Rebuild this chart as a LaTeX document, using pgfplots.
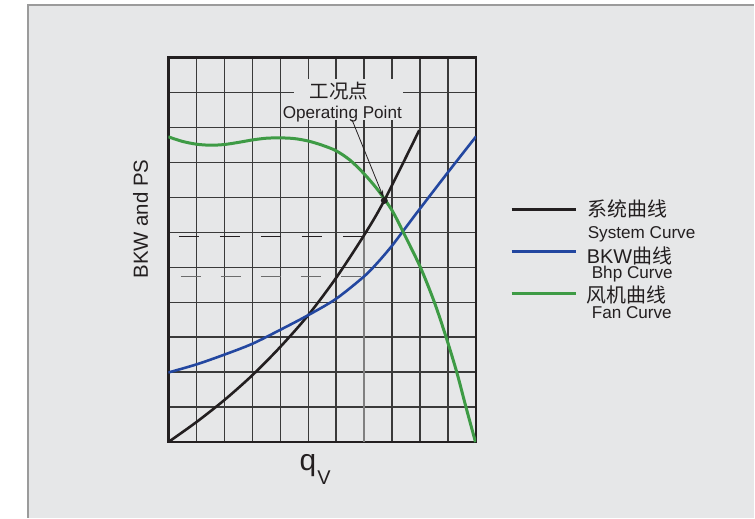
\documentclass[border=0pt]{standalone}
\usepackage{fontspec}
\setmainfont{Liberation Sans}
\newfontfamily\cjk{Noto Sans CJK SC}
\usepackage{pgfplots}
\pgfplotsset{compat=1.18}
\usetikzlibrary{arrows.meta}

\definecolor{panel}{HTML}{E6E7E8}
\definecolor{panelline}{HTML}{9B9B9B}
\definecolor{ink}{HTML}{231F20}
\definecolor{gridc}{HTML}{3A3A3A}
\definecolor{syscurve}{HTML}{231F20}
\definecolor{bhpcurve}{HTML}{2347A0}
\definecolor{fancurve}{HTML}{3E9B45}

\newcommand\fs[1]{\fontsize{#1}{#1}\selectfont}

\begin{document}
\begin{tikzpicture}
% background panel, 1px = 0.5bp
\begin{scope}[x=0.5bp,y=-0.5bp]
  \fill[white] (0,0) rectangle (755,518);
  \fill[panel] (28,5) rectangle (755,518);
  \draw[panelline,line width=0.75bp] (28,518) -- (28,5) -- (755,5);
\end{scope}

% cells of 28px x 35px
\begin{axis}[
  at={(84.25bp,-221.25bp)}, anchor=south west,
  scale only axis, width=154bp, height=192.5bp,
  xmin=0, xmax=11, ymin=0, ymax=11,
  xtick={0,...,11}, ytick={0,...,11},
  xticklabels={}, yticklabels={},
  major tick length=0pt,
  grid=major,
  grid style={gridc, line width=0.7bp},
  axis line style={ink, line width=1.2bp},
  ylabel={\fs{10.25}BKW and PS},
  ylabel style={at={(axis description cs:-0.09,0.58)}, anchor=center, text=ink, inner sep=0pt},
  xlabel={\fs{15}q\kern0.6bp\raisebox{-7.2bp}{\fs{10}V}},
  xlabel style={at={(axis description cs:0.477,-0.073)}, anchor=base, text=ink, inner sep=0pt},
]
% label box over the grid
\fill[panel] (axis cs:4.5,9.21) rectangle (axis cs:8.38,10.37);
\node[font={\cjk\fs{9.8}}, text=ink, inner sep=0pt] at (axis cs:6.10,10.03) {工况点};
\node[anchor=base, font=\fs{8.6}, text=ink, inner sep=0pt] at (axis cs:6.22,9.25) {Operating Point};

% reading lines
\draw[gray, line width=0.9bp] (axis cs:7,0) -- (axis cs:7,5.88);
\draw[ink, line width=0.6bp, dash pattern=on 10bp off 10.5bp] (axis cs:0.38,5.88) -- (axis cs:6.94,5.88);
\draw[gray!85!black, line width=0.8bp, dash pattern=on 10bp off 10bp] (axis cs:0.45,4.74) -- (axis cs:6.95,4.74);

% system curve
\addplot[syscurve, line width=1.3bp, smooth] coordinates {
  (0,0) (1,0.57) (2,1.2) (3,1.91) (4,2.72) (5,3.63) (6,4.70) (7,5.92) (7.72,6.91) (8.97,8.92)
};
% Bhp curve
\addplot[bhpcurve, line width=1.3bp, smooth] coordinates {
  (0,1.99) (1,2.22) (2,2.5) (3,2.81) (4,3.21) (5,3.63) (6,4.10) (7,4.74) (7.5,5.15) (8,5.62)
  (8.5,6.15) (9,6.68) (10,7.72) (11,8.74)
};
% fan curve
\addplot[fancurve, line width=1.5bp, smooth] coordinates {
  (0,8.73) (0.5,8.6) (1,8.52) (1.5,8.49) (2,8.51) (2.5,8.57) (3,8.64) (3.5,8.69) (4,8.70)
  (4.5,8.68) (5,8.61) (5.5,8.49) (6,8.33) (6.5,8.06) (7,7.67) (7.5,7.2) (8,6.62) (8.40,6)
  (9.01,5) (9.51,4) (9.93,3) (10.31,2) (10.64,1) (10.98,0)
};
% operating point
\draw[ink, line width=0.4bp, -{Stealth[length=4bp,width=2.2bp]}] (axis cs:6.57,9.21) -- (axis cs:7.70,6.98);
\addplot[only marks, mark=*, mark size=1.5bp, ink] coordinates {(7.72,6.91)};
\end{axis}

% legend
\begin{scope}[x=0.5bp,y=-0.5bp]
  \draw[syscurve, line width=1.5bp] (512,210) -- (577,210);
  \draw[bhpcurve, line width=1.5bp] (512,251.7) -- (577,251.7);
  \draw[fancurve, line width=1.5bp] (512,293.3) -- (577,293.3);
  \node[anchor=west, inner sep=0pt, text=ink, font={\cjk\fs{10}}] at (588,209) {系统曲线};
  \node[anchor=base west, inner sep=0pt, text=ink, font=\fs{8.6}] at (588,238.3) {System Curve};
  \node[anchor=west, inner sep=0pt, text=ink, font=\fs{10}] at (587,255.7) {BKW{\cjk 曲线}};
  \node[anchor=base west, inner sep=0pt, text=ink, font=\fs{8.6}] at (592,278.3) {Bhp Curve};
  \node[anchor=west, inner sep=0pt, text=ink, font={\cjk\fs{10}}] at (587,295) {风机曲线};
  \node[anchor=base west, inner sep=0pt, text=ink, font=\fs{8.6}] at (592,319.3) {Fan Curve};
\end{scope}
\end{tikzpicture}
\end{document}
